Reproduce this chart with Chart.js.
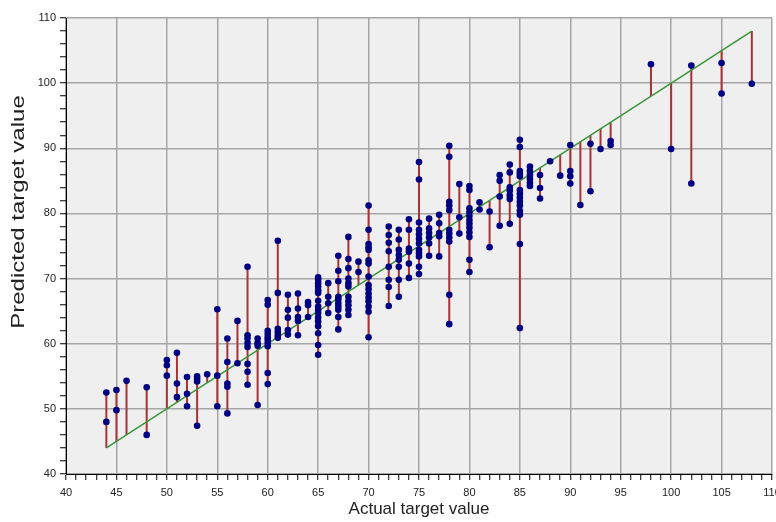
<!DOCTYPE html>
<html>
<head>
<meta charset="utf-8">
<script src="https://cdn.jsdelivr.net/npm/chart.js@4/dist/chart.umd.min.js"></script>
<style>
  html, body { margin: 0; padding: 0; background: #fff; }
  #wrap { width: 776px; height: 522px; }
</style>
</head>
<body>
<div id="wrap"><canvas id="chart"></canvas></div>
<script>
// actual values (one column of points per value)
const actualX = [44, 45, 46, 48, 50, 51, 52, 53, 54, 55, 56, 57, 58, 59, 60, 61, 62, 63, 64, 65,
  66, 67, 68, 69, 70, 72, 73, 74, 75, 76, 77, 78, 79, 80, 81, 82, 83, 84, 85, 86, 87, 88, 89,
  90, 91, 92, 93, 94, 98, 100, 102, 105, 108]

// predicted values for each actual value above
const predictedY = [
  [52.5, 48.0],
  [52.9, 49.8],
  [54.3],
  [53.3, 46.0],
  [57.5, 56.7, 55.1],
  [58.6, 53.9, 51.8],
  [54.9, 52.3, 50.4],
  [55.0, 54.6, 54.2, 47.4],
  [55.3],
  [65.3, 55.1, 50.4],
  [60.8, 57.2, 53.9, 53.4, 49.3],
  [63.5, 57.0],
  [71.8, 61.3, 60.8, 60.1, 59.5, 56.9, 55.7, 53.7],
  [60.8, 60.1, 59.7, 50.6],
  [66.7, 66.0, 62.0, 61.5, 61.0, 60.6, 60.1, 59.6, 55.5, 53.8],
  [75.8, 67.8, 62.3, 61.8, 61.3, 60.9],
  [67.5, 65.2, 64.0, 62.1, 61.4],
  [67.7, 65.4, 64.1, 63.5, 61.3],
  [66.4, 65.9, 64.1],
  [70.2, 69.8, 69.3, 68.8, 68.2, 67.8, 66.6, 65.7, 65.2, 64.7, 64.0, 63.4, 62.7, 61.6, 59.8, 58.3],
  [69.3, 67.2, 66.2, 64.7],
  [73.5, 71.2, 69.6, 67.2, 66.8, 66.2, 65.7, 65.2, 64.1, 62.2],
  [76.4, 73.0, 71.6, 70.0, 69.3, 68.8, 67.2, 66.5, 65.9, 65.2, 64.4],
  [72.6, 71.0],
  [81.2, 77.5, 75.3, 74.8, 74.4, 72.8, 72.3, 70.3, 69.0, 68.4, 67.7, 67.1, 66.5, 65.7, 64.9, 61.0],
  [78.0, 76.7, 75.5, 74.2, 71.8, 69.8, 68.7, 65.8],
  [77.5, 76.0, 74.4, 73.6, 72.9, 71.8, 69.8, 67.2],
  [79.1, 77.5, 74.6, 74.1, 72.3, 70.1],
  [87.9, 85.2, 78.6, 77.5, 76.8, 76.1, 75.4, 74.4, 73.9, 73.4, 71.8, 70.7],
  [79.2, 77.7, 77.0, 76.3, 75.4, 73.5],
  [79.8, 78.5, 77.0, 76.5, 73.4],
  [90.4, 88.7, 81.8, 81.2, 80.5, 77.5, 76.9, 76.3, 75.7, 67.5, 63.0],
  [84.5, 79.4, 76.9],
  [84.2, 83.6, 80.8, 80.2, 79.6, 79.0, 78.4, 77.8, 77.1, 76.4, 72.9, 71.0],
  [81.7, 80.6],
  [80.3, 74.8],
  [85.9, 85.0, 82.6, 78.1],
  [87.5, 86.3, 84.0, 83.5, 82.8, 82.2, 78.4],
  [91.3, 90.2, 86.5, 86.1, 85.7, 83.6, 83.0, 82.4, 81.8, 81.2, 80.4, 79.8, 75.3, 62.4],
  [87.2, 86.5, 85.9, 85.3, 84.7, 84.2],
  [85.9, 83.9, 82.3],
  [88.0],
  [85.8],
  [90.5, 86.5, 85.7, 84.6],
  [81.3],
  [90.7, 83.4],
  [89.9],
  [91.1, 90.5],
  [102.9],
  [89.9],
  [102.7, 84.6],
  [103.1, 98.4],
  [99.9]
]

// axis ticks
const xTicks = []
for (let v = 40; v <= 110; v += 1) xTicks.push(v)
const yTicks = []
for (let v = 40; v <= 110; v += 2) yTicks.push(v)

const xTitle = 'Actual target value'
const yTitle = 'Predicted target value'

const points = []
const residuals = []
actualX.forEach((x, i) => {
  predictedY[i].forEach(y => {
    points.push({ x, y })
    residuals.push({ x, y: x }, { x, y }, { x, y: null })
  })
})
const fitLine = [
  { x: actualX[0], y: actualX[0] },
  { x: actualX[actualX.length - 1], y: actualX[actualX.length - 1] }
]

const regular = "'Liberation Sans', Arial, sans-serif"

// grey plot background + the rotated y title (squeezed like the original)
const decor = {
  id: 'decor',
  beforeDraw(chart) {
    const { ctx, chartArea: a } = chart
    ctx.save()
    ctx.fillStyle = '#efefef'
    ctx.fillRect(a.left, a.top, a.right - a.left, a.bottom - a.top)
    ctx.restore()
  },
  afterDraw(chart) {
    const { ctx } = chart
    ctx.save()
    ctx.translate(19, 212)
    ctx.rotate(-Math.PI / 2)
    ctx.scale(1, 0.75)
    ctx.font = '24px ' + regular
    ctx.fillStyle = '#222'
    ctx.textAlign = 'center'
    ctx.textBaseline = 'middle'
    ctx.fillText(yTitle, 0, 0)
    ctx.restore()
  }
}

new Chart(document.getElementById('chart'), {
  type: 'line',
  data: {
    datasets: [
      {
        data: points,
        showLine: false,
        pointStyle: 'circle',
        pointRadius: 3.3,
        pointBackgroundColor: '#000080',
        pointBorderColor: '#000080',
        pointBorderWidth: 0,
        order: 0
      },
      {
        data: fitLine,
        borderColor: '#3a963a',
        borderWidth: 1.5,
        pointRadius: 0,
        order: 1
      },
      {
        data: residuals,
        borderColor: '#a83236',
        borderWidth: 2,
        pointRadius: 0,
        spanGaps: false,
        order: 2
      }
    ]
  },
  options: {
    responsive: true,
    maintainAspectRatio: false,
    animation: false,
    layout: {
      autoPadding: false,
      padding: { top: 18, right: 4, left: 0, bottom: 0 }
    },
    plugins: {
      legend: { display: false },
      tooltip: { enabled: false }
    },
    scales: {
      x: {
        type: 'linear',
        min: 40,
        max: 110,
        afterFit: s => { s.height = 48; s.paddingLeft = 0; s.paddingRight = 0 },
        afterBuildTicks: s => { s.ticks = xTicks.map(v => ({ value: v })) },
        ticks: {
          autoSkip: false,
          maxRotation: 0,
          padding: 6,
          color: '#222',
          font: { family: regular, size: 11 },
          callback: v => (v % 5 === 0 ? String(v) : '')
        },
        grid: {
          color: c => (c.tick && c.tick.value % 5 === 0 ? '#a6a6a6' : 'rgba(0,0,0,0)'),
          lineWidth: 1.5,
          tickColor: '#000',
          tickLength: 6,
          tickWidth: 1
        },
        border: { color: '#000', width: 1 },
        title: {
          display: true,
          text: xTitle,
          color: '#222',
          font: { family: regular, size: 17 },
          padding: { top: 0, bottom: 2 }
        }
      },
      y: {
        type: 'linear',
        min: 40,
        max: 110,
        afterFit: s => { s.width = 66; s.paddingTop = 0; s.paddingBottom = 0 },
        afterBuildTicks: s => { s.ticks = yTicks.map(v => ({ value: v })) },
        ticks: {
          autoSkip: false,
          padding: 4,
          color: '#222',
          font: { family: regular, size: 11 },
          callback: v => (v % 10 === 0 ? String(v) : '')
        },
        grid: {
          color: c => (c.tick && c.tick.value % 10 === 0 ? '#a6a6a6' : 'rgba(0,0,0,0)'),
          lineWidth: 1.5,
          tickColor: '#000',
          tickLength: 6,
          tickWidth: 1
        },
        border: { color: '#000', width: 1 }
      }
    }
  },
  plugins: [decor]
})
</script>
</body>
</html>
